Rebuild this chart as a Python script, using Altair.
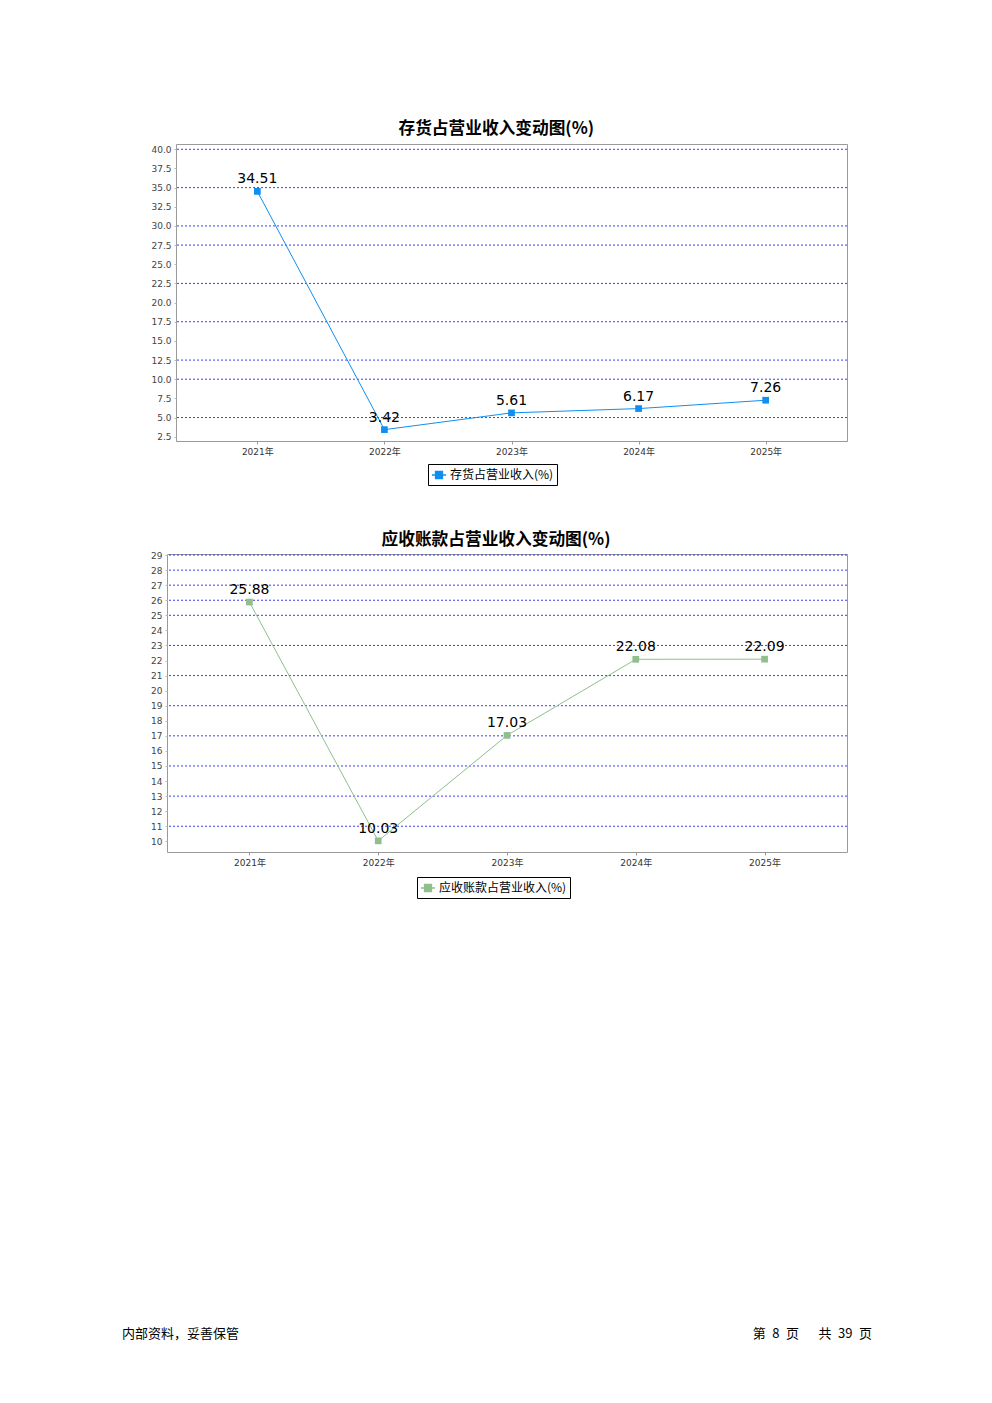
import altair as alt
import pandas as pd

years = ["2021年", "2022年", "2023年", "2024年", "2025年"]
inventory = [34.51, 3.42, 5.61, 6.17, 7.26]
receivable = [25.88, 10.03, 17.03, 22.08, 22.09]

inv_name = "存货占营业收入(%)"
rec_name = "应收账款占营业收入(%)"
inv_title = "存货占营业收入变动图(%)"
rec_title = "应收账款占营业收入变动图(%)"

inv_ticks = [2.5, 5.0, 7.5, 10.0, 12.5, 15.0, 17.5, 20.0, 22.5, 25.0,
             27.5, 30.0, 32.5, 35.0, 37.5, 40.0]
inv_grid = [40.0, 35.0, 30.0, 27.5, 22.5, 17.5, 12.5, 10.0, 5.0]
rec_ticks = [10, 11, 12, 13, 14, 15, 16, 17, 18, 19, 20, 21, 22, 23, 24,
             25, 26, 27, 28, 29]
rec_grid = [29, 28, 27, 26, 25, 23, 21, 19, 17, 15, 13, 11]

footer_left = "内部资料，妥善保管"
footer_right = "第\u20028\u2002页\u2003\u2002共\u200239\u2002页"

LAT = "DejaVu Sans, Noto Sans CJK SC"
CJK = "Noto Sans CJK SC"


def make_chart(values, name, field, title, ticks, grid, domain, color, fmt,
               width, height, lx, ly, toff):
    df = pd.DataFrame({
        "year": years,
        "value": values,
        field: [name] * len(values),
        "label": [f"{v:.2f}" for v in values],
    })
    gdf = pd.DataFrame({"value": grid})
    x = alt.X("year:N", sort=years, title=None,
              scale=alt.Scale(type="point", padding=0.64),
              axis=alt.Axis(labelAngle=0, labelFont=LAT, labelFontSize=9,
                            labelColor="#333333", tickSize=3, tickColor="#999999",
                            domain=False, labelPadding=3, grid=False))
    y = alt.Y("value:Q", title=None,
              scale=alt.Scale(domain=domain, nice=False, zero=False),
              axis=alt.Axis(values=ticks, format=fmt, labelFont=LAT,
                            labelFontSize=9, labelColor="#444444",
                            tickSize=2, tickColor="#bbbbbb", domain=False,
                            labelPadding=3, grid=False))
    grid_layer = alt.Chart(gdf).mark_rule(
        color="#1a1aff", strokeDash=[2, 2], strokeWidth=1, opacity=0.85
    ).encode(y=y)
    line = alt.Chart(df).mark_line(color=color, strokeWidth=1).encode(x=x, y=y)
    pts = alt.Chart(df).mark_point(
        shape="square", filled=True, size=45, opacity=1
    ).encode(
        x=x, y=y,
        fill=alt.Fill(f"{field}:N",
                      scale=alt.Scale(domain=[name], range=[color]),
                      legend=alt.Legend(
                          title=None, orient="none", legendX=lx, legendY=ly,
                          strokeColor="black", padding=3,
                          symbolType="M-1,0H1M-0.5,-0.5H0.5V0.5H-0.5Z",
                          symbolSize=196, symbolStrokeWidth=1.3,
                          symbolFillColor=color, symbolStrokeColor=color,
                          labelFont=CJK, labelFontSize=12,
                          labelColor="black", labelOffset=3)),
    )
    txt = alt.Chart(df).mark_text(
        dy=-5, baseline="bottom", fontSize=14, font="DejaVu Sans", color="black"
    ).encode(x=x, y=y, text="label:N")
    return alt.layer(grid_layer, line, pts, txt).properties(
        width=width, height=height,
        title=alt.TitleParams(text=title, font=CJK, fontSize=16.7,
                              fontWeight="bold", color="black",
                              anchor="middle", frame="bounds", offset=toff,
                              dx=-3),
        view=alt.ViewBackground(stroke="#9a9a9a", strokeWidth=1),
    )


def spacer():
    return alt.Chart(pd.DataFrame({"v": [0]})).mark_point(opacity=0).encode(
        x=alt.value(0), y=alt.value(0)
    ).properties(width=1, height=1,
                 view=alt.ViewBackground(stroke="transparent"))


c1 = make_chart(inventory, inv_name, "s1", inv_title, inv_ticks, inv_grid,
                [1.94, 40.69], "#0f8ff0", ".1f", 671, 297, 282, 320, 6)
c2 = make_chart(receivable, rec_name, "s2", rec_title, rec_ticks, rec_grid,
                [9.29, 29.07], "#8fbf8c", "d", 680, 298, 271, 323, 2)

fdf = pd.DataFrame({"l": [footer_left], "r": [footer_right]})
f_left = alt.Chart(fdf).mark_text(
    align="left", baseline="middle", font=CJK, fontSize=13, color="black"
).encode(x=alt.value(-24), y=alt.value(389), text="l:N")
f_right = alt.Chart(fdf).mark_text(
    align="right", baseline="middle", font=CJK, fontSize=13, color="black"
).encode(x=alt.value(726), y=alt.value(389), text="r:N")
footer = alt.layer(f_left, f_right).properties(
    width=700, height=400, view=alt.ViewBackground(stroke="transparent"))

chart = alt.vconcat(
    alt.hconcat(spacer(), c1, spacing=0),
    alt.hconcat(spacer(), c2, spacing=0),
    footer,
    spacing=45,
).resolve_scale(
    fill="independent"
).resolve_legend(
    fill="independent"
).properties(
    padding={"left": 113, "top": 112, "right": 5, "bottom": 5}
).configure_view(stroke="transparent")

chart.save("out.html", embed_options={"renderer": "svg", "actions": False})
